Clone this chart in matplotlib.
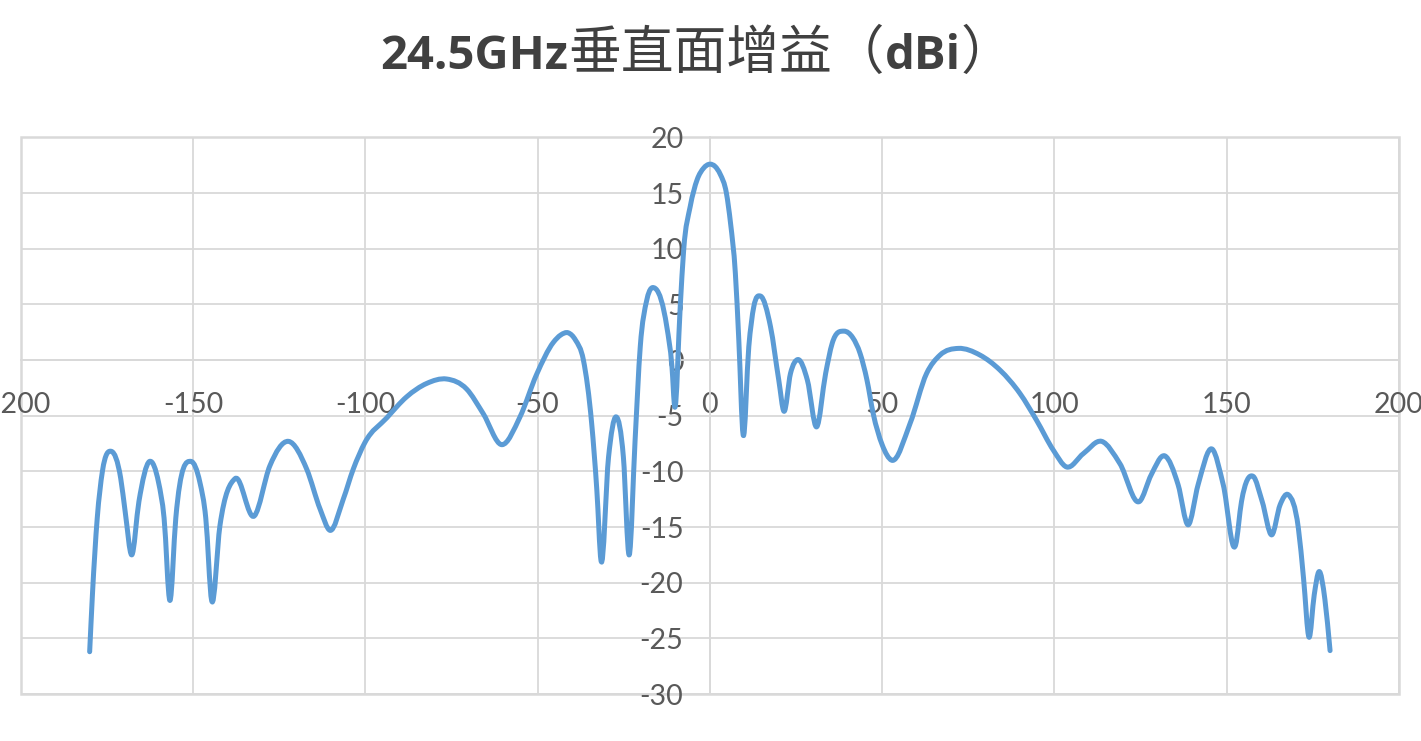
import matplotlib
matplotlib.use("Agg")
import matplotlib.pyplot as plt
import numpy as np
from matplotlib.path import Path
from matplotlib.patches import PathPatch, Rectangle

# angle (deg) and gain (dBi)
angle_deg = [
    -180.0, -179.2, -177.8, -176.3, -173.7, -171.0, -169.7, -167.8, -165.7, -162.6,
    -160.0, -158.4, -156.7, -155.0, -150.6, -148.0, -146.3, -144.6, -142.2, -137.8,
    -132.2, -127.7, -122.3, -117.0, -113.1, -110.2, -106.4, -103.5, -100.1, -93.8,
    -88.0, -82.2, -76.4, -70.6, -65.8, -60.4, -55.1, -50.3, -45.4, -43.3,
    -41.1, -39.0, -36.7, -34.3, -32.8, -31.6, -29.4, -27.2, -25.1, -23.4,
    -21.7, -20.2, -18.3, -15.7, -12.5, -11.0, -10.2, -8.6, -7.6, -5.7,
    -3.7, -1.8, 0.0, 1.5, 3.0, 4.8, 6.0, 7.4, 8.4, 9.65,
    11.3, 12.75, 14.7, 17.6, 20.0, 21.5, 23.4, 25.6, 28.3, 31.0,
    33.6, 35.5, 38.9, 41.5, 43.6, 45.6, 47.4, 50.0, 52.8, 58.1,
    62.9, 66.8, 72.1, 78.4, 84.2, 90.0, 94.8, 99.7, 103.5, 108.4,
    113.7, 119.0, 124.7, 128.1, 132.0, 135.9, 138.8, 141.7, 145.8, 149.0,
    152.6, 154.3, 157.7, 160.3, 163.1, 165.5, 167.9, 170.8, 172.3, 173.9,
    175.4, 176.8, 178.5, 180.0,
]
gain_dbi = [
    -26.2, -21.1, -14.2, -10.0, -8.2, -10.6, -13.6, -17.5, -12.7, -9.1,
    -11.0, -14.2, -21.6, -14.2, -9.1, -11.0, -14.2, -21.6, -14.9, -10.65,
    -14.0, -9.5, -7.3, -9.8, -13.4, -15.3, -12.5, -9.8, -7.4, -5.2,
    -3.3, -2.1, -1.7, -2.6, -4.8, -7.6, -5.1, -1.3, 1.6, 2.25,
    2.45, 1.8, 0.0, -5.7, -11.7, -18.0, -8.7, -5.1, -8.7, -17.5,
    -7.2, 1.2, 5.4, 6.4, 3.0, -0.6, -4.2, 4.8, 9.9, 13.8,
    16.2, 17.25, 17.6, 17.4, 16.7, 15.0, 12.3, 7.8, 1.8, -6.7,
    1.2, 4.8, 5.75, 3.0, -1.8, -4.6, -1.2, 0.05, -1.8, -6.0,
    -1.2, 1.5, 2.6, 2.0, 0.6, -1.8, -4.8, -7.6, -9.0, -5.7,
    -1.2, 0.45, 1.05, 0.45, -0.9, -3.0, -5.4, -8.1, -9.6, -8.4,
    -7.3, -9.3, -12.7, -10.3, -8.6, -11.2, -14.8, -11.2, -8.0, -11.2,
    -16.6, -12.7, -10.45, -12.7, -15.7, -13.0, -12.1, -15.1, -19.6, -24.9,
    -21.1, -19.0, -21.5, -26.1,
]

x_ticks = [-200, -150, -100, -50, 0, 50, 100, 150, 200]
y_ticks = [-30, -25, -20, -15, -10, -5, 0, 5, 10, 15, 20]

grid_col = '#d9d9d9'
text_col = '#595959'
line_col = '#5b9bd5'

plt.rcParams['axes.unicode_minus'] = False


def smooth_path(xs, ys):
    # smoothed line like excel: cubic beziers with 3-point slopes
    x = np.asarray(xs, float)
    y = np.asarray(ys, float)
    h = np.diff(x)
    d = np.diff(y) / h
    m = np.zeros_like(x)
    m[0], m[-1] = d[0], d[-1]
    m[1:-1] = (d[:-1] * h[1:] + d[1:] * h[:-1]) / (h[:-1] + h[1:])
    verts = [(x[0], y[0])]
    codes = [Path.MOVETO]
    for i in range(len(x) - 1):
        verts += [(x[i] + h[i] / 3, y[i] + m[i] * h[i] / 3),
                  (x[i + 1] - h[i] / 3, y[i + 1] - m[i + 1] * h[i] / 3),
                  (x[i + 1], y[i + 1])]
        codes += [Path.CURVE4] * 3
    return Path(verts, codes)


fig = plt.figure(figsize=(14.21, 7.41), dpi=100)
ax = fig.add_axes([0.0146, 0.0634, 0.9699, 0.7511])

ax.set_xlim(-200, 200)
ax.set_ylim(-30, 20)
ax.set_xticks(x_ticks)
ax.set_yticks(y_ticks)
ax.grid(True, color=grid_col, lw=1.3)

for s in ['top', 'right']:
    ax.spines[s].set_visible(False)
ax.spines['left'].set_position(('data', 0))
ax.spines['bottom'].set_position(('data', 0))
for s in ['left', 'bottom']:
    ax.spines[s].set_color(grid_col)
    ax.spines[s].set_linewidth(1.3)
ax.add_patch(Rectangle((0, 0), 1, 1, transform=ax.transAxes, fill=False,
                       ec=grid_col, lw=1.8, clip_on=False, zorder=1))

ax.tick_params(axis='both', length=0, labelsize=20.5, labelcolor=text_col)
ax.tick_params(axis='x', pad=23)
ax.tick_params(axis='y', pad=19)
for lab in ax.get_xticklabels() + ax.get_yticklabels():
    lab.set_family('Lato')

ax.add_patch(PathPatch(smooth_path(angle_deg, gain_dbi), fill=False, ec=line_col,
                       lw=3.6, capstyle='round', joinstyle='round', zorder=3))

# title in pieces: bold latin, plain CJK
pieces = [('24.5GHz', 'Open Sans', 'bold', 34),
          ('垂直面增益（', 'Noto Sans CJK SC', 'normal', 38),
          ('dBi', 'Open Sans', 'bold', 34),
          ('）', 'Noto Sans CJK SC', 'normal', 38)]
r = fig.canvas.get_renderer()
texts = []
widths = []
for s, fam, w, sz in pieces:
    t = fig.text(0, 0.907, s, family=fam, weight=w, size=sz, color='#404040', va='baseline')
    texts.append(t)
    widths.append(t.get_window_extent(r).width)
x0 = 697 - sum(widths) / 2
for t, wd in zip(texts, widths):
    t.set_x(x0 / 1421)
    x0 += wd

fig.savefig('out.png', dpi=100)
